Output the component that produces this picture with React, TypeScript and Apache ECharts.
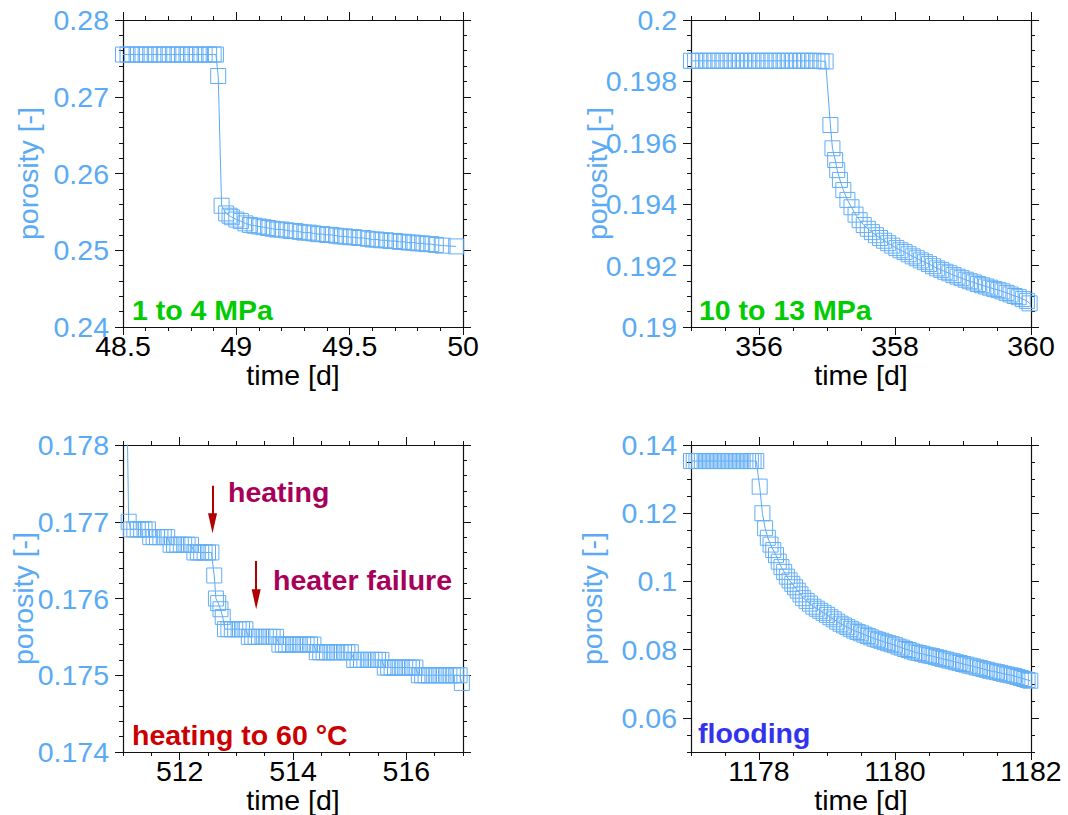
import { useEffect, useRef } from "react";
import * as echarts from "echarts";

const FONT = '"Liberation Sans", Arial, Helvetica, sans-serif';
const BLUE = "#5aaaf5";
const MARKER = "#62aef6";

// ---------- data: [time (d), porosity (-)] ----------
const load1to4: [number, number][] = [
  [48.5, 0.2755], [48.52, 0.2755], [48.54, 0.2755], [48.56, 0.2755], [48.58, 0.2755],
  [48.6, 0.2755], [48.62, 0.2755], [48.64, 0.2755], [48.66, 0.2755], [48.68, 0.2755],
  [48.7, 0.2755], [48.72, 0.2755], [48.74, 0.2755], [48.76, 0.2755], [48.78, 0.2755],
  [48.8, 0.2755], [48.82, 0.2755], [48.84, 0.2755], [48.86, 0.2755], [48.88, 0.2755],
  [48.9, 0.2755], [48.91, 0.2755], [48.92, 0.2727], [48.935, 0.2558], [48.955, 0.2548],
  [48.97, 0.2545], [48.98, 0.2543], [49.0, 0.254], [49.02, 0.2538], [49.04, 0.2535],
  [49.06, 0.2533], [49.08, 0.2532], [49.1, 0.2531], [49.12, 0.253], [49.14, 0.2529],
  [49.16, 0.2528], [49.18, 0.2527], [49.2, 0.2527], [49.22, 0.2526], [49.24, 0.2525],
  [49.26, 0.2525], [49.28, 0.2524], [49.3, 0.2523], [49.32, 0.2523], [49.34, 0.2522],
  [49.36, 0.2521], [49.38, 0.2521], [49.4, 0.252], [49.42, 0.252], [49.44, 0.2519],
  [49.46, 0.2518], [49.48, 0.2518], [49.5, 0.2517], [49.52, 0.2517], [49.54, 0.2516],
  [49.56, 0.2516], [49.58, 0.2515], [49.6, 0.2514], [49.62, 0.2514], [49.64, 0.2513],
  [49.66, 0.2513], [49.68, 0.2512], [49.7, 0.2512], [49.72, 0.2511], [49.74, 0.2511],
  [49.76, 0.251], [49.78, 0.251], [49.8, 0.2509], [49.82, 0.2509], [49.84, 0.2508],
  [49.86, 0.2508], [49.88, 0.2507], [49.91, 0.2506], [49.97, 0.2505],
];

const load10to13: [number, number][] = [
  [355.0, 0.19867], [355.06, 0.19867], [355.12, 0.19867], [355.18, 0.19867], [355.24, 0.19867],
  [355.3, 0.19867], [355.36, 0.19867], [355.42, 0.19867], [355.48, 0.19867], [355.54, 0.19867],
  [355.6, 0.19867], [355.66, 0.19867], [355.72, 0.19867], [355.78, 0.19867], [355.84, 0.19867],
  [355.9, 0.19867], [355.96, 0.19867], [356.02, 0.19867], [356.08, 0.19867], [356.14, 0.19867],
  [356.2, 0.19867], [356.26, 0.19867], [356.32, 0.19867], [356.38, 0.19867], [356.44, 0.19867],
  [356.5, 0.19867], [356.56, 0.19867], [356.62, 0.19867], [356.68, 0.19867], [356.74, 0.19867],
  [356.8, 0.19867], [356.86, 0.19867], [356.92, 0.19866], [356.98, 0.19865],
  [357.05, 0.19658], [357.08, 0.19582], [357.12, 0.19544], [357.15, 0.19511], [357.19, 0.19479],
  [357.24, 0.19446], [357.3, 0.19414], [357.36, 0.1939], [357.42, 0.19366], [357.48, 0.19348],
  [357.54, 0.19332], [357.6, 0.1932], [357.66, 0.19309], [357.72, 0.19299], [357.78, 0.1929],
  [357.84, 0.19281], [357.9, 0.19273], [357.96, 0.19265], [358.02, 0.19257], [358.08, 0.1925],
  [358.14, 0.19244], [358.2, 0.19237], [358.26, 0.1923], [358.32, 0.19224], [358.38, 0.19217],
  [358.44, 0.19211], [358.5, 0.19205], [358.56, 0.19198], [358.62, 0.19191], [358.68, 0.19186],
  [358.74, 0.1918], [358.8, 0.19175], [358.86, 0.19169], [358.92, 0.19164], [358.98, 0.19159],
  [359.04, 0.19154], [359.1, 0.19149], [359.16, 0.19145], [359.22, 0.1914], [359.28, 0.19136],
  [359.34, 0.19132], [359.4, 0.19128], [359.46, 0.19124], [359.52, 0.1912], [359.58, 0.19116],
  [359.64, 0.19111], [359.7, 0.19106], [359.76, 0.19101], [359.82, 0.19097], [359.88, 0.19091],
  [359.94, 0.19085], [359.98, 0.19077],
];

const heating60: [number, number][] = [
  [511.06, 0.179], [511.1, 0.177],
  [511.14, 0.1769], [511.2, 0.1769], [511.26, 0.1769], [511.32, 0.1769], [511.38, 0.1769], [511.44, 0.1769],
  [511.48, 0.1768], [511.54, 0.1768], [511.6, 0.1768], [511.66, 0.1768], [511.72, 0.1768], [511.78, 0.1768],
  [511.84, 0.1767], [511.9, 0.1767], [511.96, 0.1767], [512.02, 0.1767], [512.08, 0.1767], [512.14, 0.1767], [512.2, 0.1767],
  [512.26, 0.1766], [512.32, 0.1766], [512.38, 0.1766], [512.44, 0.1766], [512.5, 0.1766], [512.56, 0.1766],
  [512.61, 0.1763], [512.64, 0.176], [512.68, 0.17594], [512.72, 0.17586], [512.76, 0.17576],
  [512.8, 0.1756], [512.86, 0.1756], [512.92, 0.1756], [512.98, 0.1756], [513.04, 0.1756], [513.1, 0.1756], [513.16, 0.1756],
  [513.22, 0.1755], [513.28, 0.1755], [513.34, 0.1755], [513.4, 0.1755], [513.46, 0.1755], [513.52, 0.1755],
  [513.58, 0.1755], [513.64, 0.1755], [513.7, 0.1755],
  [513.76, 0.1754], [513.82, 0.1754], [513.88, 0.1754], [513.94, 0.1754], [514.0, 0.1754], [514.06, 0.1754],
  [514.12, 0.1754], [514.18, 0.1754], [514.24, 0.1754], [514.3, 0.1754], [514.36, 0.1754],
  [514.42, 0.1753], [514.48, 0.1753], [514.54, 0.1753], [514.6, 0.1753], [514.66, 0.1753], [514.72, 0.1753],
  [514.78, 0.1753], [514.84, 0.1753], [514.9, 0.1753], [514.96, 0.1753], [515.02, 0.1753],
  [515.08, 0.1752], [515.14, 0.1752], [515.2, 0.1752], [515.26, 0.1752], [515.32, 0.1752], [515.38, 0.1752],
  [515.44, 0.1752], [515.5, 0.1752], [515.56, 0.1752],
  [515.62, 0.1751], [515.68, 0.1751], [515.74, 0.1751], [515.8, 0.1751], [515.86, 0.1751], [515.92, 0.1751],
  [515.98, 0.1751], [516.04, 0.1751], [516.1, 0.1751], [516.16, 0.1751],
  [516.22, 0.175], [516.28, 0.175], [516.34, 0.175], [516.4, 0.175], [516.46, 0.175], [516.52, 0.175],
  [516.58, 0.175], [516.64, 0.175], [516.7, 0.175], [516.76, 0.175], [516.82, 0.175], [516.88, 0.175],
  [516.94, 0.175], [516.98, 0.1749],
];

const flooding: [number, number][] = [
  [1177.0, 0.1353], [1177.04, 0.1353], [1177.08, 0.1353], [1177.12, 0.1353], [1177.16, 0.1353],
  [1177.2, 0.1353], [1177.24, 0.1353], [1177.28, 0.1353], [1177.32, 0.1353], [1177.36, 0.1353],
  [1177.4, 0.1353], [1177.44, 0.1353], [1177.48, 0.1353], [1177.52, 0.1353], [1177.56, 0.1353],
  [1177.6, 0.1353], [1177.64, 0.1353], [1177.68, 0.1353], [1177.72, 0.1353], [1177.76, 0.1353],
  [1177.8, 0.1353], [1177.84, 0.1353], [1177.88, 0.1353], [1177.92, 0.1353], [1177.96, 0.1353],
  [1178.01, 0.1278], [1178.05, 0.12], [1178.09, 0.1156], [1178.13, 0.1128], [1178.17, 0.1108],
  [1178.21, 0.1092], [1178.25, 0.1077], [1178.29, 0.1058], [1178.33, 0.1042], [1178.37, 0.1028],
  [1178.41, 0.1014], [1178.45, 0.1003], [1178.49, 0.0993], [1178.53, 0.0983], [1178.57, 0.0973],
  [1178.61, 0.0962], [1178.65, 0.0951], [1178.7, 0.0943], [1178.75, 0.0935], [1178.8, 0.0926],
  [1178.85, 0.092], [1178.9, 0.0914], [1178.95, 0.0908], [1179.0, 0.0902], [1179.05, 0.0895],
  [1179.1, 0.0889], [1179.15, 0.0882], [1179.2, 0.0876], [1179.25, 0.0871], [1179.3, 0.0866],
  [1179.35, 0.0861], [1179.4, 0.0856], [1179.45, 0.0852], [1179.5, 0.0848], [1179.55, 0.0844],
  [1179.6, 0.084], [1179.65, 0.0836], [1179.7, 0.0832], [1179.75, 0.0829], [1179.8, 0.0826],
  [1179.85, 0.0822], [1179.9, 0.0819], [1179.95, 0.0816], [1180.0, 0.0813], [1180.05, 0.0809],
  [1180.1, 0.0806], [1180.15, 0.0802], [1180.2, 0.0799], [1180.25, 0.0795], [1180.3, 0.0792],
  [1180.35, 0.079], [1180.4, 0.0788], [1180.45, 0.0785], [1180.5, 0.0783], [1180.55, 0.0781],
  [1180.6, 0.0778], [1180.65, 0.0776], [1180.7, 0.0773], [1180.75, 0.0771], [1180.8, 0.0768],
  [1180.85, 0.0766], [1180.9, 0.0763], [1180.95, 0.0761], [1181.0, 0.0758], [1181.05, 0.0756],
  [1181.1, 0.0753], [1181.15, 0.0751], [1181.2, 0.0748], [1181.25, 0.0746], [1181.3, 0.0743],
  [1181.35, 0.0741], [1181.4, 0.0738], [1181.45, 0.0736], [1181.5, 0.0734], [1181.55, 0.0732],
  [1181.6, 0.0729], [1181.65, 0.0727], [1181.7, 0.0725], [1181.75, 0.0723], [1181.8, 0.072],
  [1181.85, 0.0717], [1181.9, 0.0714], [1181.95, 0.0711], [1181.99, 0.0709],
];

// ---------- tick labels ----------
const xTicks1 = [48.5, 49, 49.5, 50];
const yTicks1 = [0.24, 0.25, 0.26, 0.27, 0.28];
const xTicks2 = [356, 358, 360];
const yTicks2 = [0.19, 0.192, 0.194, 0.196, 0.198, 0.2];
const xTicks3 = [512, 514, 516];
const yTicks3 = [0.174, 0.175, 0.176, 0.177, 0.178];
const xTicks4 = [1178, 1180, 1182];
const yTicks4 = [0.06, 0.08, 0.1, 0.12, 0.14];

// arrows in the heating panel (time, porosity from -> to)
const arrowTime = [512.58, 513.35];
const arrowFrom = [0.17747, 0.17649];
const arrowTo = [0.17698, 0.17599];

const panels = [
  { data: load1to4, x: [48.5, 50], xTicks: xTicks1, xMinor: 0.1, y: [0.24, 0.28], yTicks: yTicks1, yMinor: 0.002, left: 123, top: 20, nameGap: 81 },
  { data: load10to13, x: [355, 360], xTicks: xTicks2, xMinor: 0.5, y: [0.19, 0.2], yTicks: yTicks2, yMinor: 0.0005, left: 691, top: 20, nameGap: 80 },
  { data: heating60, x: [511, 517], xTicks: xTicks3, xMinor: 0.5, y: [0.174, 0.178], yTicks: yTicks3, yMinor: 0.0002, left: 123, top: 445, nameGap: 86 },
  { data: flooding, x: [1177, 1182], xTicks: xTicks4, xMinor: 0.5, y: [0.05, 0.14], yTicks: yTicks4, yMinor: 0.005, left: 691, top: 445, nameGap: 85 },
];

function minorTicks(min: number, max: number, step: number) {
  const n = Math.round((max - min) / step);
  const out: number[] = [];
  for (let k = 0; k <= n; k++) out.push(+(min + k * step).toFixed(8));
  return out;
}

const FS = 28.5;

function makeAxes(dim: "x" | "y", gi: number, p: any) {
  const [min, max] = dim === "x" ? p.x : p.y;
  const ticks = dim === "x" ? p.xTicks : p.yTicks;
  const minors = minorTicks(min, max, dim === "x" ? p.xMinor : p.yMinor);
  const pos1 = dim === "x" ? "bottom" : "left";
  const pos2 = dim === "x" ? "top" : "right";
  const base = { gridIndex: gi, type: "value", min, max, splitLine: { show: false }, silent: true };
  const major = (position: string, labelled: boolean) => ({
    ...base,
    position,
    axisLine: { show: true, onZero: false, lineStyle: { color: "#111", width: 1.2 } },
    axisTick: { show: true, inside: false, length: 8, customValues: ticks, lineStyle: { color: "#111", width: 1 } },
    axisLabel: labelled
      ? {
          show: true,
          customValues: ticks,
          margin: dim === "x" ? 4 : 14,
          fontSize: FS,
          fontFamily: FONT,
          color: dim === "x" ? "#000" : BLUE,
          formatter: (v: number) => String(v),
        }
      : { show: false },
    ...(labelled
      ? dim === "x"
        ? { name: "time [d]", nameLocation: "middle", nameGap: 33, nameMoveOverlap: false, nameTextStyle: { fontSize: FS, fontFamily: FONT, color: "#000" } }
        : { name: "porosity [-]", nameLocation: "middle", nameGap: p.nameGap, nameMoveOverlap: false, nameTextStyle: { fontSize: FS, fontFamily: FONT, color: BLUE } }
      : {}),
  });
  const minor = (position: string) => ({
    ...base,
    position,
    axisLine: { show: false, onZero: false },
    axisTick: { show: true, inside: false, length: 4, customValues: minors, lineStyle: { color: "#111", width: 1 } },
    axisLabel: { show: false },
  });
  return [major(pos1, true), minor(pos1), major(pos2, false), minor(pos2)];
}

function label(text: string, x: number, y: number, color: string) {
  return {
    type: "text",
    x,
    y,
    silent: true,
    style: { text, fill: color, fontSize: FS, fontWeight: "bold", fontFamily: FONT, align: "left", verticalAlign: "middle" },
  };
}

export default function App() {
  const ref = useRef<HTMLDivElement>(null);
  useEffect(() => {
    if (!ref.current) return;
    const chart = echarts.init(ref.current, undefined, { renderer: "svg" });
    const option: any = {
      animation: false,
      backgroundColor: "#fff",
      grid: panels.map((p) => ({ left: p.left, top: p.top, width: 340, height: 307, containLabel: false })),
      xAxis: panels.flatMap((p, i) => makeAxes("x", i, p)),
      yAxis: panels.flatMap((p, i) => makeAxes("y", i, p)),
      series: panels.map((p, i) => ({
        type: "line",
        xAxisIndex: 4 * i,
        yAxisIndex: 4 * i,
        data: p.data,
        symbol: "rect",
        symbolSize: 15,
        showSymbol: true,
        clip: true,
        silent: true,
        itemStyle: { color: "rgba(0,0,0,0)", borderColor: MARKER, borderWidth: 1 },
        lineStyle: { color: BLUE, width: 1 },
        emphasis: { disabled: true },
        ...(i === 2
          ? {
              markLine: {
                silent: true,
                animation: false,
                symbol: ["none", "triangle"],
                symbolSize: [9, 20],
                label: { show: false },
                lineStyle: { color: "#b00000", width: 2, type: "solid" },
                emphasis: { disabled: true },
                data: arrowTime.map((t, k) => [{ coord: [t, arrowFrom[k]] }, { coord: [t, arrowTo[k]] }]),
              },
            }
          : {}),
      })),
      graphic: [
        label("1 to 4 MPa", 132, 310, "#00cc00"),
        label("10 to 13 MPa", 699, 310, "#00cc00"),
        label("heating to 60 °C", 132, 735, "#cc0000"),
        label("flooding", 698, 733, "#3333ee"),
        label("heating", 228, 492, "#a8005a"),
        label("heater failure", 273, 580, "#a8005a"),
      ],
    };
    chart.setOption(option);
    return () => chart.dispose();
  }, []);
  return <div ref={ref} style={{ position: "absolute", left: 0, top: 0, width: 1068, height: 815 }} />;
}
